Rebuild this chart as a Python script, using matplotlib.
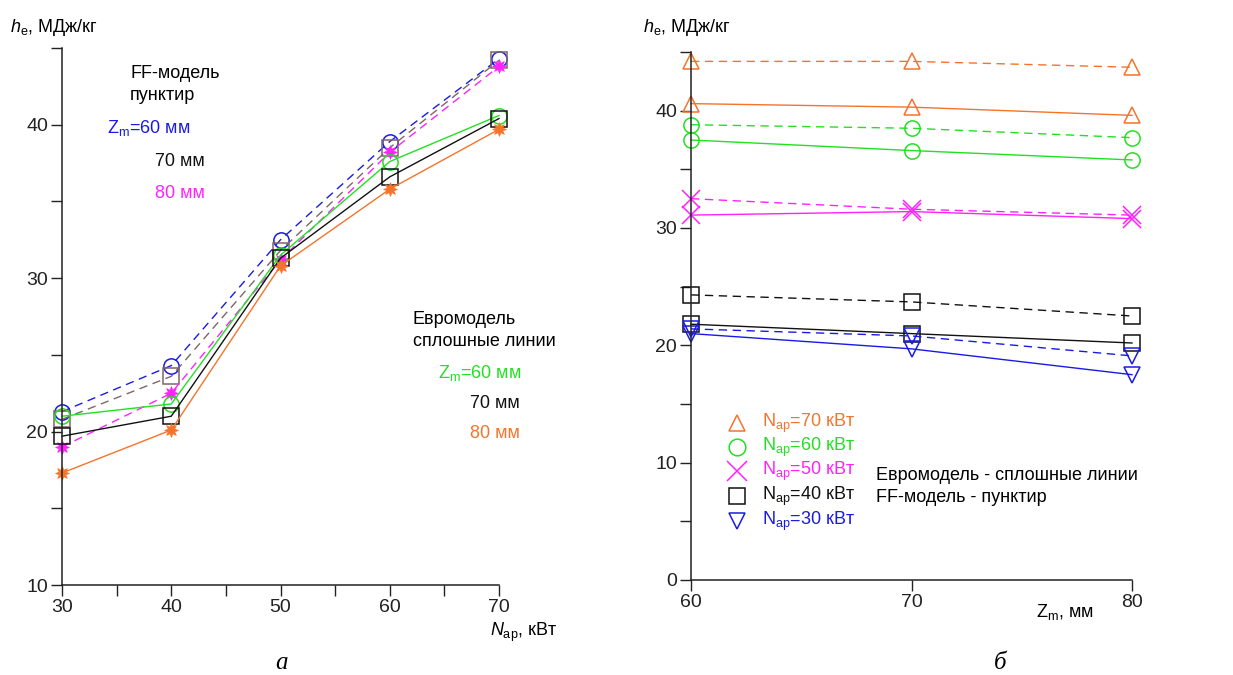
import numpy as np
import matplotlib
matplotlib.use("Agg")
import matplotlib.pyplot as plt

plt.rcParams['font.family'] = ['Liberation Sans', 'DejaVu Sans']
plt.rcParams['mathtext.fontset'] = 'custom'
plt.rcParams['mathtext.rm'] = 'Liberation Sans'
plt.rcParams['mathtext.it'] = 'Liberation Sans:italic'

# --- panel a: h_e vs N_ap ---
n_ap = [30, 40, 50, 60, 70]
ff_60 = [21.3, 24.3, 32.5, 38.9, 44.3]
ff_70 = [20.8, 23.6, 31.8, 38.5, 44.2]
ff_80 = [19.0, 22.5, 31.2, 38.2, 43.8]
eu_60 = [21.0, 21.8, 31.5, 37.6, 40.6]
eu_70 = [19.7, 21.0, 31.3, 36.6, 40.4]
eu_80 = [17.3, 20.1, 30.8, 35.8, 39.7]

# --- panel б: h_e vs Z_m ---
z_m = [60, 70, 80]
eu_n70 = [40.6, 40.3, 39.6]
ff_n70 = [44.2, 44.2, 43.7]
eu_n60 = [37.5, 36.6, 35.8]
ff_n60 = [38.8, 38.5, 37.7]
eu_n50 = [31.1, 31.4, 30.8]
ff_n50 = [32.5, 31.6, 31.1]
eu_n40 = [21.8, 21.0, 20.2]
ff_n40 = [24.3, 23.7, 22.5]
eu_n30 = [21.0, 19.7, 17.5]
ff_n30 = [21.4, 20.8, 19.1]

BLUE = '#1a1ae6'
GREEN = '#22e022'
MAG = '#ff22ff'
ORANGE = '#f5742a'
BROWN = '#806666'
BLACK = '#111111'

star = (8, 1, 0)
dash = (0, (6, 4))

fig = plt.figure(figsize=(12.33, 6.75), dpi=100)
ax1 = fig.add_axes([62/1233, 1-585/675, 437/1233, 537/675])
ax2 = fig.add_axes([691/1233, 1-580/675, 441/1233, 528/675])

mk = dict(markersize=11, markerfacecolor='none', markeredgewidth=1.1)

ax1.plot(n_ap, ff_60, color=BLUE, ls=dash, lw=1, marker='o', **mk)
ax1.plot(n_ap, ff_70, color=BROWN, ls=dash, lw=1, marker='s', **mk)
ax1.plot(n_ap, ff_80, color=MAG, ls=dash, lw=1, marker=star, markersize=10, markeredgewidth=0.5)
ax1.plot(n_ap, eu_60, color=GREEN, lw=1, marker='o', **mk)
ax1.plot(n_ap, eu_70, color=BLACK, lw=1, marker='s', **mk)
ax1.plot(n_ap, eu_80, color=ORANGE, lw=1, marker=star, markersize=10, markeredgewidth=0.5)

ax1.set_xlim(30, 70)
ax1.set_ylim(10, 45)
ax1.set_xticks([30, 40, 50, 60, 70])
ax1.set_xticks([35, 45, 55, 65], minor=True)
ax1.set_yticks([10, 20, 30, 40])
ax1.set_yticks([15, 25, 35, 45], minor=True)

lines2 = [
    (eu_n70, ff_n70, ORANGE, '^'),
    (eu_n60, ff_n60, GREEN, 'o'),
    (eu_n50, ff_n50, MAG, 'x'),
    (eu_n40, ff_n40, BLACK, 's'),
    (eu_n30, ff_n30, BLUE, 'v'),
]
for eu, ff, c, m in lines2:
    ms = 13 if m == 'x' else 11
    ax2.plot(z_m, eu, color=c, lw=1, marker=m, markersize=ms,
             markerfacecolor='none', markeredgewidth=1.1, clip_on=False)
    ax2.plot(z_m, ff, color=c, lw=1, ls=dash, marker=m, markersize=ms,
             markerfacecolor='none', markeredgewidth=1.1, clip_on=False)

ax2.set_xlim(60, 80)
ax2.set_ylim(0, 45)
ax2.set_xticks([60, 70, 80])
ax2.set_yticks([0, 10, 20, 30, 40])
ax2.set_yticks([5, 15, 25, 35, 45], minor=True)

for ax in (ax1, ax2):
    for s in ('top', 'right'):
        ax.spines[s].set_visible(False)
    for s in ('left', 'bottom'):
        ax.spines[s].set_linewidth(1.1)
        ax.spines[s].set_color('#222222')
    ax.tick_params(which='both', direction='out', length=8, width=1, labelsize=14,
                   colors='#222222', pad=2)
    for l in ax.get_lines():
        l.set_clip_on(False)

fs = 13
# panel a texts
fig.text(10/1233, 1-28/675, r'$\mathit{h}_{\mathrm{e}}$, МДж/кг', fontsize=fs, va='center')
fig.text(130/1233, 1-73/675, 'FF-модель', fontsize=fs, va='center')
fig.text(130/1233, 1-96/675, 'пунктир', fontsize=fs, va='center')
fig.text(107/1233, 1-128/675, r'$\mathrm{Z}_{\mathrm{m}}$=60 мм', fontsize=fs, va='center', color=BLUE)
fig.text(155/1233, 1-161/675, '70 мм', fontsize=fs, va='center', color=BLACK)
fig.text(155/1233, 1-193/675, '80 мм', fontsize=fs, va='center', color=MAG)
fig.text(413/1233, 1-319/675, 'Евромодель', fontsize=fs, va='center')
fig.text(413/1233, 1-341/675, 'сплошные линии', fontsize=fs, va='center')
fig.text(438/1233, 1-373/675, r'$\mathrm{Z}_{\mathrm{m}}$=60 мм', fontsize=fs, va='center', color=GREEN)
fig.text(470/1233, 1-403/675, '70 мм', fontsize=fs, va='center', color=BLACK)
fig.text(470/1233, 1-433/675, '80 мм', fontsize=fs, va='center', color=ORANGE)
fig.text(490/1233, 1-632/675, r'$\mathit{N}_{\mathrm{ap}}$, кВт', fontsize=fs, va='center')
fig.text(282/1233, 1-663/675, 'а', fontsize=18, va='center', ha='center',
         family='Liberation Serif', style='italic')

# panel б texts
fig.text(643/1233, 1-28/675, r'$\mathit{h}_{\mathrm{e}}$, МДж/кг', fontsize=fs, va='center')
leg_y = [423, 447, 471, 496, 521]
leg_lbl = ['70', '60', '50', '40', '30']
for (eu, ff, c, m), y, lb in zip(lines2, leg_y, leg_lbl):
    ms = 15 if m == 'x' else 12
    fig.lines.append(plt.Line2D([737/1233], [1-y/675], marker=m, color=c, markersize=ms,
                                markerfacecolor='none', markeredgewidth=1.1,
                                transform=fig.transFigure))
    fig.text(762/1233, 1-y/675, r'$\mathrm{N}_{\mathrm{ap}}$=' + lb + ' кВт', fontsize=fs,
             va='center', color=c)
fig.text(876/1233, 1-475/675, 'Евромодель - сплошные линии', fontsize=fs, va='center')
fig.text(876/1233, 1-497/675, 'FF-модель - пунктир', fontsize=fs, va='center')
fig.text(1036/1233, 1-612/675, r'$\mathrm{Z}_{\mathrm{m}}$, мм', fontsize=fs, va='center')
fig.text(1000/1233, 1-663/675, 'б', fontsize=18, va='center', ha='center',
         family='Liberation Serif', style='italic')

fig.savefig('out.png', dpi=100, facecolor='white')
